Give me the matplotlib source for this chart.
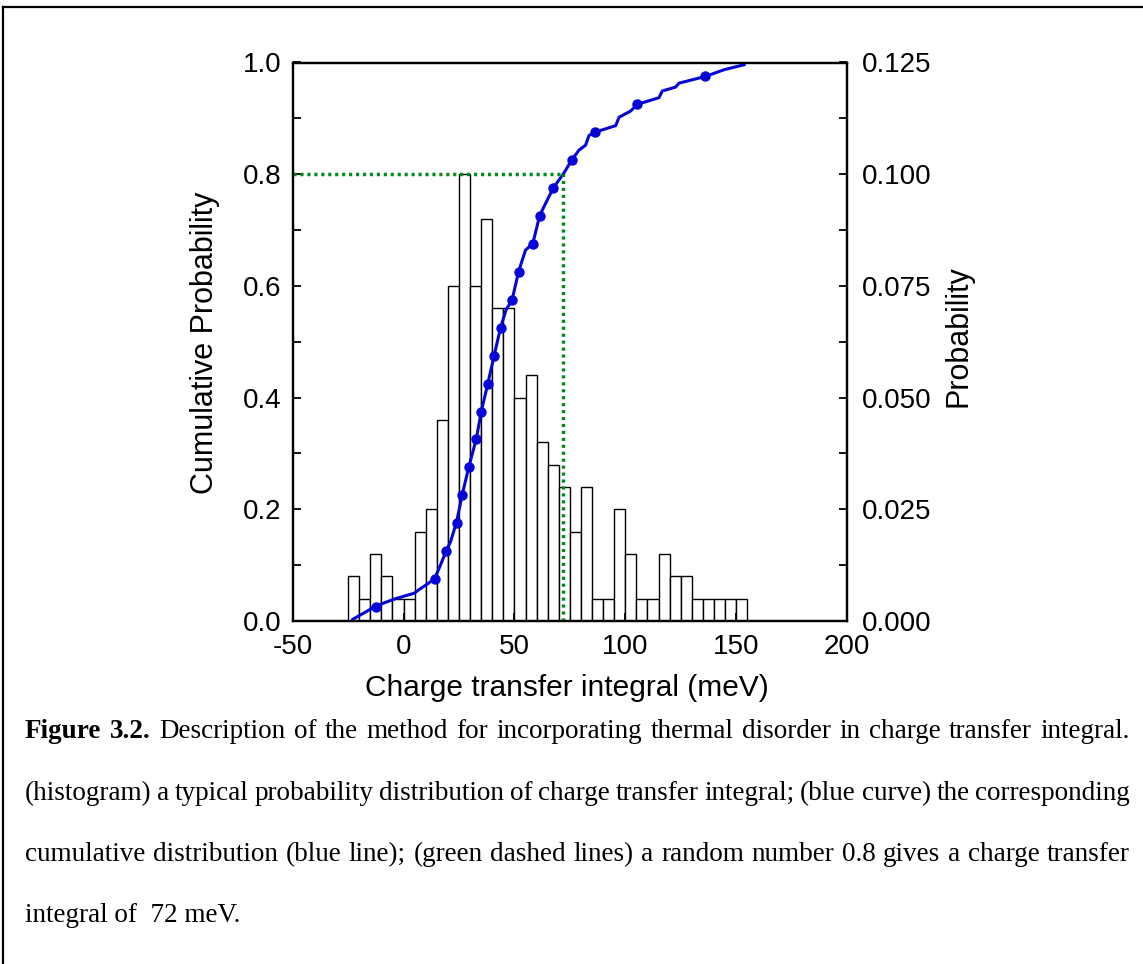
import matplotlib
matplotlib.use('Agg')
import matplotlib.pyplot as plt
from matplotlib.lines import Line2D
from matplotlib.ticker import MultipleLocator, FormatStrFormatter

plt.rcParams['axes.unicode_minus'] = False

# ---------------- data ----------------
bin_starts = [-25, -20, -15, -10, -5, 0, 5, 10, 15, 20, 25, 30, 35, 40, 45, 50, 55, 60,
              65, 70, 75, 80, 85, 90, 95, 100, 105, 110, 115, 120, 125, 130, 135, 140, 145, 150]
bin_prob = [0.010, 0.005, 0.015, 0.010, 0.005, 0.005, 0.020, 0.025, 0.045, 0.075, 0.100, 0.075,
            0.090, 0.070, 0.070, 0.050, 0.055, 0.040, 0.035, 0.030, 0.020, 0.030, 0.005, 0.005,
            0.025, 0.015, 0.005, 0.005, 0.015, 0.010, 0.010, 0.005, 0.005, 0.005, 0.005, 0.005]
bin_width = 5

cum_x = [-22.9, -19.4, -12.3, -4.4, 5.0, 6.5, 10.7, 14.0, 16.0, 19.3, 21.2, 23.9, 26.5, 29.5,
         32.8, 35.1, 38.0, 40.9, 43.8, 46.3, 48.9, 51.9, 55.0, 58.3, 61.4, 64.1, 67.6, 72.0,
         75.8, 79.1, 82.1, 83.6, 86.2, 95.7, 97.2, 102.4, 105.4, 115.2, 116.7, 122.7, 124.2,
         136.1, 144.5, 153.6]
cum_p = [0.003, 0.011, 0.027, 0.039, 0.050, 0.055, 0.066, 0.076, 0.094, 0.126, 0.142, 0.177,
         0.227, 0.277, 0.326, 0.376, 0.425, 0.476, 0.526, 0.558, 0.574, 0.626, 0.664, 0.676,
         0.726, 0.748, 0.776, 0.800, 0.825, 0.843, 0.852, 0.869, 0.875, 0.887, 0.902, 0.913,
         0.925, 0.937, 0.949, 0.956, 0.963, 0.975, 0.987, 0.996]

mark_x = [-12.3, 14.0, 19.3, 23.9, 26.5, 29.5, 32.8, 35.1, 38.0, 40.9, 43.8, 48.9, 51.9, 58.3,
          61.4, 67.6, 75.8, 86.2, 105.4, 136.1]
mark_p = [0.025, 0.075, 0.125, 0.175, 0.225, 0.275, 0.325, 0.375, 0.425, 0.475, 0.525, 0.575,
          0.625, 0.675, 0.725, 0.775, 0.825, 0.875, 0.925, 0.975]

rand_number = 0.8
rand_result = 72

x_ticks = [-50, 0, 50, 100, 150, 200]
caption_lines = [
    "Figure 3.2. Description of the method for incorporating thermal disorder in charge transfer integral.",
    "(histogram) a typical probability distribution of charge transfer integral; (blue curve) the corresponding",
    "cumulative distribution (blue line); (green dashed lines) a random number 0.8 gives a charge transfer",
    "integral of  72 meV.",
]

# ---------------- figure ----------------
W, H = 1143, 964
fig = plt.figure(figsize=(W / 100, H / 100), dpi=100)
sans = 'Liberation Sans'
serif = 'Liberation Serif'

x0p, x1p, y0p, y1p = 292.7, 847.0, 621.0, 62.5
ax = fig.add_axes([x0p / W, 1 - y0p / H, (x1p - x0p) / W, (y0p - y1p) / H])
ax2 = ax.twinx()

# histogram on right axis
ax2.bar(bin_starts, bin_prob, width=bin_width, align='edge', facecolor='white',
        edgecolor='black', linewidth=1.0)
ax2.set_ylim(0, 0.125)

# cumulative curve on left axis, drawn above the histogram
ax.set_zorder(ax2.get_zorder() + 1)
ax.patch.set_visible(False)
blue = '#0505d8'
ax.plot(cum_x, cum_p, color=blue, lw=2.2, solid_joinstyle='round')
ax.plot(mark_x, mark_p, 'o', color=blue, ms=6.5, mec=blue)
green = '#008a1e'
ax.plot([-50, rand_result], [rand_number, rand_number], color=green, lw=2.5,
        linestyle=(0, (0.9, 1.1)))
ax.plot([rand_result, rand_result], [0, rand_number], color=green, lw=2.5,
        linestyle=(0, (0.9, 1.1)))

ax.set_xlim(-50, 200)
ax.set_ylim(0, 1.0)
ax.set_xticks(x_ticks)
ax.yaxis.set_major_locator(MultipleLocator(0.2))
ax.yaxis.set_minor_locator(MultipleLocator(0.1))
ax.yaxis.set_major_formatter(FormatStrFormatter('%.1f'))
ax2.yaxis.set_major_locator(MultipleLocator(0.025))
ax2.yaxis.set_minor_locator(MultipleLocator(0.0125))
ax2.yaxis.set_major_formatter(FormatStrFormatter('%.3f'))

for a in (ax, ax2):
    for s in a.spines.values():
        s.set_linewidth(1.6)
ax.tick_params(axis='both', which='both', direction='in', length=6, width=1.3,
               labelsize=20, top=False, right=False)
ax.tick_params(axis='y', pad=8)
ax.tick_params(axis='x', pad=9)
ax2.tick_params(axis='y', which='both', direction='in', length=6, width=1.3,
                labelsize=20, pad=11)
ax2.tick_params(axis='x', which='both', bottom=False, top=False, labelbottom=False)
for lab in ax.get_xticklabels() + ax.get_yticklabels() + ax2.get_yticklabels():
    lab.set_fontfamily(sans)

fig.text(205 / W, 1 - 343 / H, 'Cumulative Probability', rotation=90, ha='center', va='center',
         fontsize=22, family=sans)
fig.text(958 / W, 1 - 336 / H, 'Probability', rotation=90, ha='center', va='center',
         fontsize=22, family=sans)
fig.text(567 / W, 1 - 688 / H, 'Charge transfer integral (meV)', ha='center', va='center',
         fontsize=21.5, family=sans)

# frame around figure (top and left edges visible)
fig.add_artist(Line2D([2.5 / W, 1.0], [1 - 7 / H, 1 - 7 / H], transform=fig.transFigure,
                      color='black', lw=1.6))
fig.add_artist(Line2D([2.5 / W, 2.5 / W], [1 - 7 / H, 0], transform=fig.transFigure,
                      color='black', lw=1.6))

# caption, justified
fig.canvas.draw()
renderer = fig.canvas.get_renderer()
baselines = [738, 800, 861, 922]
cx0, cx1 = 25, 1130
csize = 19.5
for i, line in enumerate(caption_lines):
    yb = 1 - baselines[i] / H
    if i == len(caption_lines) - 1:
        fig.text(cx0 / W, yb, line, ha='left', va='baseline', fontsize=csize, family=serif)
        continue
    words = line.split(' ')
    texts = []
    for j, w in enumerate(words):
        bold = (i == 0 and j < 2)
        t = fig.text(0, yb, w, ha='left', va='baseline', fontsize=csize, family=serif,
                     fontweight='bold' if bold else 'normal')
        texts.append(t)
    widths = [t.get_window_extent(renderer).width for t in texts]
    gap = (cx1 - cx0 - sum(widths)) / (len(words) - 1)
    x = cx0
    for t, wd in zip(texts, widths):
        t.set_x(x / W)
        x += wd + gap

fig.savefig('out.png', dpi=100)
